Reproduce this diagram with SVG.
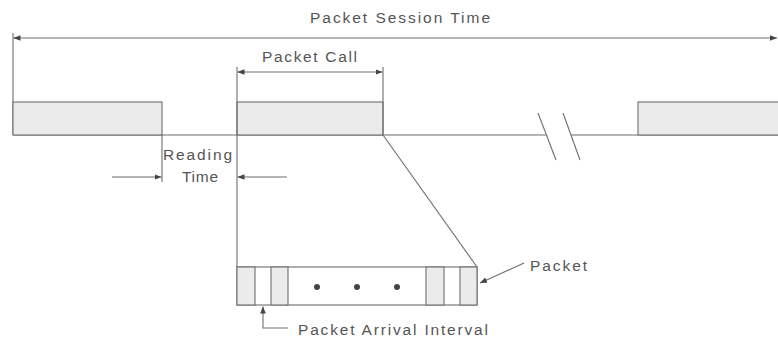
<svg xmlns="http://www.w3.org/2000/svg" width="778" height="345" viewBox="0 0 778 345">
<style>
.ln{stroke:#6e6e6e;stroke-width:1.1;fill:none}
.bx{stroke:#6e6e6e;stroke-width:1.1;fill:#ebebeb}
.wb{stroke:#6e6e6e;stroke-width:1.1;fill:#fff}
.t{font-family:"Liberation Sans",Arial,sans-serif;font-size:15.5px;fill:#555}
</style>
<defs>
<marker id="ah" viewBox="0 0 10 10" refX="10" refY="5" markerWidth="7" markerHeight="7" markerUnits="userSpaceOnUse" orient="auto">
<path d="M0,1 L10,5 L0,9 Z" fill="#444"/>
</marker>
</defs>
<rect width="778" height="345" fill="#fff"/>

<g id="session">
<line class="ln" x1="13" y1="33" x2="13" y2="135"/>
<line class="ln" x1="20" y1="38" x2="13.5" y2="38" marker-end="url(#ah)"/>
<line class="ln" x1="20" y1="38" x2="777" y2="38" marker-end="url(#ah)"/>
<text class="t" x="310" y="23" textLength="180" lengthAdjust="spacing">Packet Session Time</text>
</g>

<g id="baseline">
<line class="ln" x1="13" y1="135" x2="546" y2="135"/>
<line class="ln" x1="571" y1="135" x2="778" y2="135"/>
<line class="ln" x1="538" y1="113" x2="556" y2="160"/>
<line class="ln" x1="563" y1="113" x2="580" y2="160"/>
</g>

<g id="call1"><rect class="bx" x="13" y="102" width="149" height="33"/></g>
<g id="call2"><rect class="bx" x="237" y="102" width="146" height="33"/></g>
<g id="call3"><rect class="bx" x="638" y="102" width="142" height="33"/></g>

<g id="packet-call">
<line class="ln" x1="237" y1="67" x2="237" y2="267"/>
<line class="ln" x1="383" y1="67" x2="383" y2="135"/>
<line class="ln" x1="300" y1="72" x2="237.5" y2="72" marker-end="url(#ah)"/>
<line class="ln" x1="300" y1="72" x2="382.5" y2="72" marker-end="url(#ah)"/>
<text class="t" x="262" y="62" textLength="95" lengthAdjust="spacing">Packet Call</text>
</g>

<g id="reading-time">
<line class="ln" x1="162" y1="135" x2="162" y2="182"/>
<line class="ln" x1="112" y1="177" x2="161.5" y2="177" marker-end="url(#ah)"/>
<line class="ln" x1="287" y1="177" x2="237.5" y2="177" marker-end="url(#ah)"/>
<text class="t" x="163" y="160" textLength="69" lengthAdjust="spacing">Reading</text>
<text class="t" x="182" y="182" textLength="36" lengthAdjust="spacing">Time</text>
</g>

<g id="connectors">
<line class="ln" x1="383" y1="135" x2="477" y2="267"/>
</g>

<g id="packet-train">
<rect class="wb" x="237" y="267" width="240" height="38"/>
<rect class="bx" x="237" y="267" width="18" height="38"/>
<rect class="bx" x="271" y="267" width="17" height="38"/>
<rect class="bx" x="426" y="267" width="18" height="38"/>
<rect class="bx" x="460" y="267" width="17" height="38"/>
<circle cx="317" cy="287" r="3" fill="#444"/>
<circle cx="357" cy="287" r="3" fill="#444"/>
<circle cx="397" cy="287" r="3" fill="#444"/>
</g>

<g id="packet-label">
<line class="ln" x1="524" y1="263" x2="480" y2="283" marker-end="url(#ah)"/>
<text class="t" x="530" y="271" textLength="57" lengthAdjust="spacing">Packet</text>
</g>

<g id="arrival-label">
<polyline class="ln" points="288,328 263,328 263,306.5" marker-end="url(#ah)"/>
<text class="t" x="298" y="335" textLength="190" lengthAdjust="spacing">Packet Arrival Interval</text>
</g>
</svg>
